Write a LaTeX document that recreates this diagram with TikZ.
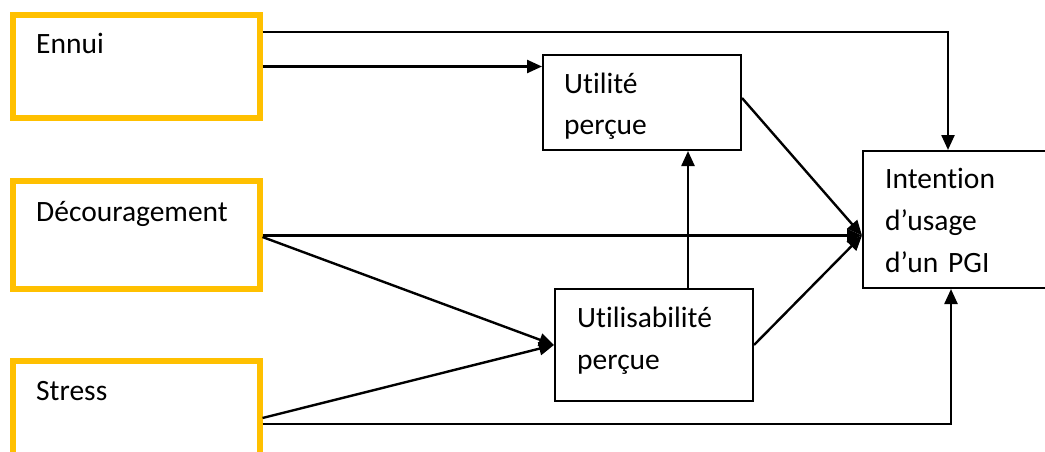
\documentclass[tikz,border=0pt]{standalone}
\usepackage{fontspec}
\setmainfont{Carlito}[Ligatures=NoCommon,RawFeature={-liga;-clig}]
\usetikzlibrary{arrows.meta}
\definecolor{orangeC}{HTML}{FFC000}
\begin{document}
\begin{tikzpicture}[x=1pt,y=-1pt,
  inbox/.style={rectangle, draw=orangeC, line width=6pt, minimum width=246.5pt, inner sep=0pt},
  var/.style={rectangle, draw=black, line width=2pt, inner sep=0pt},
  lbl/.style={anchor=base west, inner sep=0pt, text width=240pt, align=left, font=\fontsize{29.5}{42}\selectfont},
  link/.style={line width=2.4pt, -{Triangle[length=15pt,width=13pt]}}
]
\clip (0,0) rectangle (1045,452);
\fill[white] (0,0) rectangle (1045,452);
% boxes
\node[inbox, minimum height=103pt] (ennui) at (136.25,66.5) {};
\node[inbox, minimum height=107.5pt] (decour) at (136.25,234.75) {};
\node[inbox, minimum height=107pt] (stress) at (136.25,414.5) {};
\node[var, minimum width=198pt, minimum height=95pt] (utilite) at (642,102.5) {};
\node[var, minimum width=198pt, minimum height=112pt] (usab) at (654,345) {};
\node[var, minimum width=197pt, minimum height=137pt] (intention) at (961.5,219.5) {};
% labels
\node[lbl] (ennuiT) at (36,54) {Ennui};
\node[lbl] (decourT) at (36,221) {Découragement};
\node[lbl] (stressT) at (36,400) {Stress};
\node[lbl] (utiliteT) at (564,93) {Utilité\\perçue};
\node[lbl] (usabT) at (577,327) {Utilisabilité\\perçue};
\node[lbl] (intentionT) at (885,188) {Intention\\d’usage\\d’un PGI};
% connector points
\coordinate (eA) at (ennui.east |- 0,32);
\coordinate (iTop) at (intention.north -| 948,0);
\coordinate (iIn) at (intention.west |- 0,235.5);
\coordinate (uOut) at (utilite.east |- 0,98);
\coordinate (dA) at (decour.east |- iIn);
\coordinate (dB) at (decour.east |- 0,237);
\coordinate (sA) at (stress.east |- 0,418);
\coordinate (sB) at (stress.east |- 0,424);
\coordinate (iBot) at (intention.south -| 951,0);
\coordinate (vA) at (usab.north -| 688,0);
\coordinate (vB) at (utilite.south -| 688,0);
% connectors
\draw[link] (eA) -| (iTop);
\draw[link] (ennui.east) -- (ennui.east -| utilite.west);
\draw[link] (uOut) -- (iIn);
\draw[link] (dA) -- (iIn);
\draw[link] (dB) -- (usab.west);
\draw[link] (sA) -- (usab.west);
\draw[link] (sB) -| (iBot);
\draw[link] (vA) -- (vB);
\draw[link] (usab.east) -- (iIn);
\end{tikzpicture}
\end{document}
